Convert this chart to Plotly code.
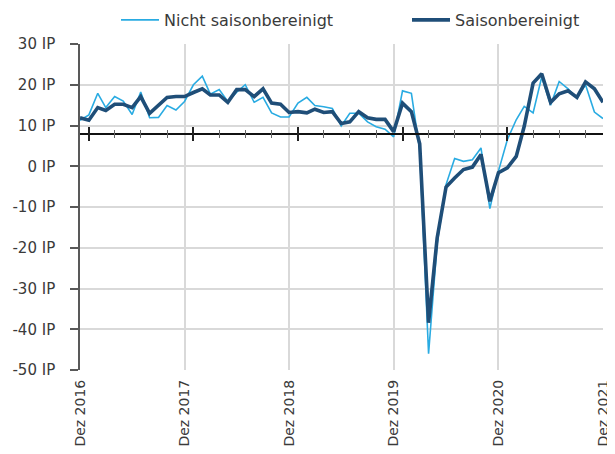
import plotly.graph_objects as go
import pandas as pd

# ---- data -------------------------------------------------------------
months = pd.date_range("2016-12-01", "2021-12-01", freq="MS").strftime("%Y-%m-%d").tolist()

nicht_saisonbereinigt = [
    11.3, 12.6, 17.9, 14.4, 17.1, 16.0, 12.7, 18.2, 11.9, 12.0, 14.9, 13.8,
    15.9, 20.0, 22.1, 17.7, 18.8, 15.9, 18.2, 20.0, 15.7, 16.9, 13.1, 12.1,
    12.1, 15.5, 16.9, 14.9, 14.6, 14.2, 9.9, 13.0, 13.0, 10.9, 9.7, 9.1,
    7.2, 18.5, 17.9, 4.0, -46.0, -19.0, -4.5, 1.9, 1.2, 1.6, 4.5, -10.4,
    -1.2, 6.5, 11.4, 14.7, 13.1, 21.9, 15.0, 20.8, 19.0, 16.7, 20.0, 13.3,
    11.7,
]
saisonbereinigt = [
    11.9, 11.3, 14.4, 13.7, 15.2, 15.2, 14.4, 17.1, 13.0, 14.9, 16.9, 17.1,
    17.1, 18.1, 19.0, 17.5, 17.5, 15.7, 18.8, 18.8, 17.1, 19.0, 15.5, 15.2,
    13.2, 13.4, 13.1, 14.0, 13.2, 13.4, 10.5, 10.9, 13.4, 11.9, 11.5, 11.5,
    8.5, 15.5, 13.4, 5.5, -38.4, -17.6, -5.1, -2.9, -0.8, -0.2, 2.9, -8.6,
    -1.6, -0.4, 2.4, 9.8, 20.4, 22.7, 15.7, 17.8, 18.5, 16.9, 20.7, 19.0,
    15.7,
]

x_tick_dates = ["2016-12-01", "2017-12-01", "2018-12-01", "2019-12-01", "2020-12-01", "2021-12-01"]
x_tick_labels = ["Dez 2016", "Dez 2017", "Dez 2018", "Dez 2019", "Dez 2020", "Dez 2021"]
y_tick_vals = [30, 20, 10, 0, -10, -20, -30, -40, -50]
y_tick_labels = ["30 IP", "20 IP", "10 IP", "0 IP", "-10 IP", "-20 IP", "-30 IP", "-40 IP", "-50 IP"]
x_axis_cross = 8

# ---- styling ----------------------------------------------------------
LIGHT = "#29ABE2"
DARK = "#1F4E78"
FONT = "DejaVu Sans"
TXT = "#3a3a3a"
GRID = "#d9d9d9"
YMIN, YMAX = -50, 30
XRANGE = ["2016-12-01", "2021-12-01"]
W, H = 607, 446   # page body adds an 8px offset

fig = go.Figure()
fig.add_trace(go.Scatter(x=months, y=nicht_saisonbereinigt, mode="lines",
                         name="Nicht saisonbereinigt", legend="legend",
                         line=dict(color=LIGHT, width=1.6)))
fig.add_trace(go.Scatter(x=months, y=saisonbereinigt, mode="lines",
                         name="Saisonbereinigt", legend="legend2",
                         line=dict(color=DARK, width=3.6)))

cross_pos = (x_axis_cross - YMIN) / (YMAX - YMIN)

legend_common = dict(orientation="h", xanchor="left", itemwidth=38,
                     yref="container", xref="container", y=1 - 12 / H, yanchor="middle",
                     font=dict(family=FONT, size=16, color=TXT),
                     bgcolor="rgba(0,0,0,0)", borderwidth=0)

fig.update_layout(
    width=W, height=H,
    margin=dict(l=72, r=12, t=36, b=84, autoexpand=False),
    paper_bgcolor="white", plot_bgcolor="white",
    font=dict(family=FONT, size=15, color=TXT),
    showlegend=True,
    legend=dict(x=108 / W, **legend_common),
    legend2=dict(x=399 / W, **legend_common),
    xaxis=dict(type="date", range=XRANGE,
               tickvals=x_tick_dates, ticktext=x_tick_labels,
               tickangle=-90, ticks="", showline=False,
               showgrid=True, gridcolor=GRID, gridwidth=1.5,
               zeroline=False, ticklabelstandoff=6,
               tickfont=dict(family=FONT, size=14, color=TXT)),
    xaxis2=dict(type="date", range=XRANGE, overlaying="x", anchor="free",
                position=cross_pos, side="bottom",
                showline=True, linecolor="#111111", linewidth=1.6,
                showgrid=False, showticklabels=False,
                tick0="2017-01-01", dtick="M12",
                ticks="outside", ticklen=7, tickwidth=1.6, tickcolor="#222222",
                minor=dict(tick0="2017-01-01", dtick="M3", ticks="outside",
                           ticklen=4, tickwidth=1, tickcolor="#666666",
                           showgrid=False)),
    xaxis3=dict(type="date", range=XRANGE, overlaying="x", anchor="free",
                position=cross_pos, side="bottom",
                showline=False, showgrid=False, showticklabels=False,
                tick0="2017-01-01", dtick="M12",
                ticks="inside", ticklen=7, tickwidth=1.6, tickcolor="#222222",
                minor=dict(tick0="2017-01-01", dtick="M3", ticks="inside",
                           ticklen=4, tickwidth=1, tickcolor="#666666",
                           showgrid=False)),
    yaxis=dict(range=[YMIN, YMAX], tickvals=y_tick_vals, ticktext=y_tick_labels,
               showgrid=True, gridcolor=GRID, gridwidth=1.5, zeroline=False,
               showline=True, linecolor="#595959", linewidth=1.6,
               ticks="outside", ticklen=8, tickwidth=1.6, tickcolor="#595959",
               ticklabelstandoff=12,
               tickfont=dict(family=FONT, size=15, color=TXT)),
)

# invisible helper traces so the overlay axes are rendered
fig.add_trace(go.Scatter(x=[months[0]], y=[None], xaxis="x2", showlegend=False, hoverinfo="skip"))
fig.add_trace(go.Scatter(x=[months[0]], y=[None], xaxis="x3", showlegend=False, hoverinfo="skip"))

fig.write_html("out.html")
